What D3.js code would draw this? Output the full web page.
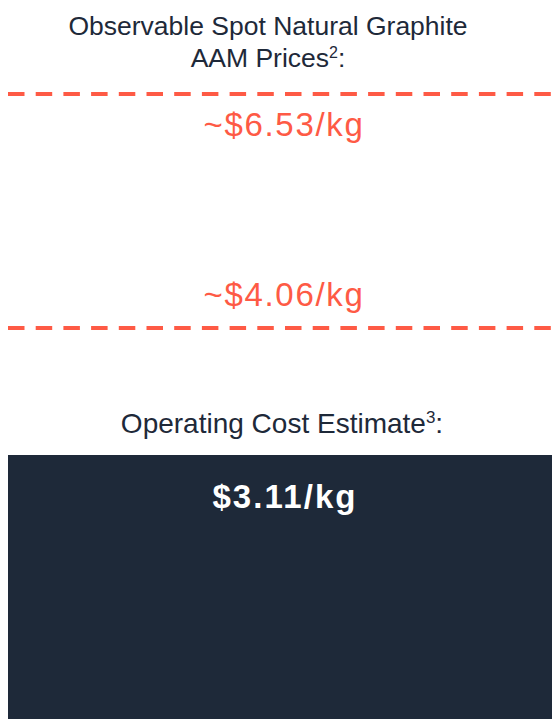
<!DOCTYPE html>
<html>
<head>
<meta charset="utf-8">
<script src="https://cdn.jsdelivr.net/npm/d3@7"></script>
<style>
  html, body { margin: 0; padding: 0; background: #fff; }
  svg { display: block; font-family: "Liberation Sans", Arial, Helvetica, sans-serif; }
</style>
</head>
<body>
<div id="chart"></div>
<script>
// observable spot prices (AAM) and the operating cost estimate, $/kg
const priceLabels = ["~$6.53/kg", "~$4.06/kg"];
const priceValues = [6.53, 4.06];
const costLabels = ["$3.11/kg"];
const costValues = [3.11];
const titleLines = ["Observable Spot Natural Graphite", "AAM Prices"];
const costTitle = "Operating Cost Estimate";

const width = 552, height = 719;
const red = "#fe5a45", navy = "#1e2939";

const svg = d3.select("#chart").append("svg")
    .attr("width", width)
    .attr("height", height);

// schematic value axis: not to scale in the slide, so piecewise
const y = d3.scaleLinear()
    .domain([costValues[0], priceValues[1], priceValues[0]])
    .range([455, 328, 94]);

const x = d3.scaleLinear().domain([0, 1]).range([8, width]);

// title
const title = svg.append("text")
    .attr("text-anchor", "middle")
    .attr("fill", navy)
    .style("font-size", "26.5px");
title.append("tspan").attr("x", 268).attr("y", 35).text(titleLines[0]);
title.append("tspan").attr("x", 268).attr("y", 67).text(titleLines[1]);
title.append("tspan").attr("dy", -9).style("font-size", "16px").text("2");
title.append("tspan").attr("dy", 9).text(":");

// dashed price lines
svg.selectAll(".price")
    .data(priceValues)
    .enter().append("line")
    .attr("class", "price")
    .attr("x1", x(0))
    .attr("x2", x(1))
    .attr("y1", d => y(d))
    .attr("y2", d => y(d))
    .attr("stroke", red)
    .attr("stroke-width", 4)
    .attr("stroke-dasharray", "16.5 11.2");

svg.selectAll(".price-label")
    .data(priceValues)
    .enter().append("text")
    .attr("class", "price-label")
    .attr("x", 284)
    .attr("y", (d, i) => i === 0 ? y(d) + 42 : y(d) - 22)
    .attr("text-anchor", "middle")
    .attr("fill", red)
    .style("font-size", "33px")
    .style("letter-spacing", "1.7px")
    .text((d, i) => priceLabels[i]);

// operating cost heading
const ct = svg.append("text")
    .attr("x", 282)
    .attr("y", 433)
    .attr("text-anchor", "middle")
    .attr("fill", navy)
    .style("font-size", "28px");
ct.append("tspan").text(costTitle);
ct.append("tspan").attr("dy", -10).style("font-size", "17px").text("3");
ct.append("tspan").attr("dy", 10).text(":");

// cost bar
svg.selectAll(".cost")
    .data(costValues)
    .enter().append("rect")
    .attr("class", "cost")
    .attr("x", x(0))
    .attr("width", x(1) - x(0))
    .attr("y", d => y(d))
    .attr("height", d => height - y(d))
    .attr("fill", navy);

svg.selectAll(".cost-label")
    .data(costValues)
    .enter().append("text")
    .attr("class", "cost-label")
    .attr("x", 285)
    .attr("y", d => y(d) + 53)
    .attr("text-anchor", "middle")
    .attr("fill", "#fff")
    .style("font-size", "33px")
    .style("font-weight", "bold")
    .style("letter-spacing", "2.1px")
    .text((d, i) => costLabels[i]);
</script>
</body>
</html>
